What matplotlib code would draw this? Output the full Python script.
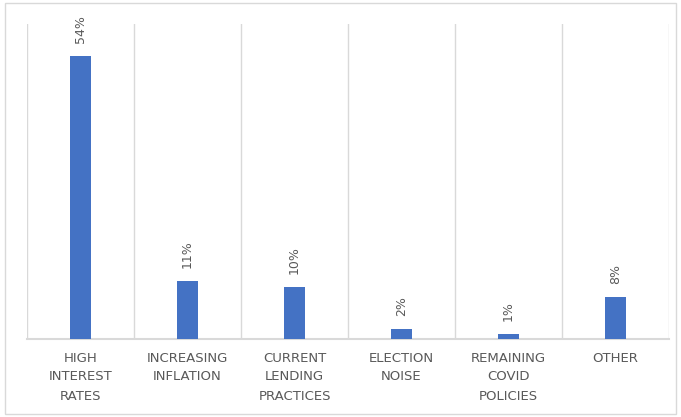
import matplotlib
matplotlib.use("Agg")
import matplotlib.pyplot as plt
from matplotlib.patches import Rectangle
import numpy as np

categories = ["HIGH\nINTEREST\nRATES", "INCREASING\nINFLATION", "CURRENT\nLENDING\nPRACTICES",
              "ELECTION\nNOISE", "REMAINING\nCOVID\nPOLICIES", "OTHER"]
values = [54, 11, 10, 2, 1, 8]
value_labels = ["54%", "11%", "10%", "2%", "1%", "8%"]

bar_color = "#4472C4"
grid_color = "#D9D9D9"
text_color = "#595959"

fig = plt.figure(figsize=(6.81, 4.17), dpi=100)
ax = fig.add_axes([27/681, 78/417, 642/681, 315/417])

x = np.arange(len(categories))
ax.bar(x, values, width=0.19, color=bar_color, zorder=3)
ax.set_xlim(-0.5, len(categories) - 0.5)
ax.set_ylim(0, 60)

for b in np.arange(-0.5, len(categories), 1.0):
    ax.axvline(b, color=grid_color, lw=1.0, zorder=1)

for xi, v, lab in zip(x, values, value_labels):
    ax.annotate(lab, (xi, v), xytext=(0, 13), textcoords="offset pixels",
                rotation=90, ha="center", va="bottom", fontsize=9, color=text_color)

for s in ["top", "left", "right"]:
    ax.spines[s].set_visible(False)
ax.spines["bottom"].set_color(grid_color)
ax.spines["bottom"].set_linewidth(1.5)
ax.set_yticks([])
ax.set_xticks(x)
ax.set_xticklabels(categories, fontsize=9.5, color=text_color, linespacing=1.6)
ax.tick_params(axis="x", length=0, pad=9)

fig.patches.append(Rectangle((5/681, 3/417), 671/681, 411/417, transform=fig.transFigure,
                             fill=False, edgecolor=grid_color, lw=1.0))

fig.savefig("out.png", dpi=100)
